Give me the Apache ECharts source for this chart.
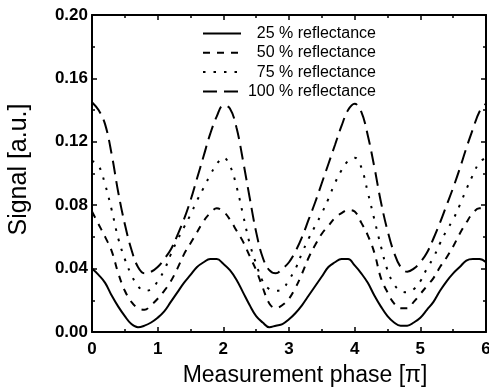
<!DOCTYPE html>
<html>
<head>
<meta charset="utf-8">
<script src="https://cdn.jsdelivr.net/npm/echarts@6/dist/echarts.min.js"></script>
<style>
  html, body { margin: 0; padding: 0; background: #fff; }
  #chart { width: 489px; height: 389px; }
</style>
</head>
<body>
<div id="chart"></div>
<script>
// Measurement phase in units of pi
const phase = [
  0.0, 0.1, 0.2, 0.3, 0.4, 0.5, 0.6, 0.7, 0.8, 0.9,
  1.0, 1.1, 1.2, 1.3, 1.4, 1.5, 1.6, 1.7, 1.8, 1.9,
  2.0, 2.1, 2.2, 2.3, 2.4, 2.5, 2.6, 2.7, 2.8, 2.9,
  3.0, 3.1, 3.2, 3.3, 3.4, 3.5, 3.6, 3.7, 3.8, 3.9,
  4.0, 4.1, 4.2, 4.3, 4.4, 4.5, 4.6, 4.7, 4.8, 4.9,
  5.0, 5.1, 5.2, 5.3, 5.4, 5.5, 5.6, 5.7, 5.8, 5.9,
  6.0
];

// Signal [a.u.] for each target reflectance
const refl25 = [
  0.040, 0.036, 0.031, 0.023, 0.016, 0.010, 0.005, 0.003, 0.004, 0.006,
  0.009, 0.013, 0.019, 0.025, 0.031, 0.036, 0.041, 0.044, 0.046, 0.046,
  0.043, 0.039, 0.033, 0.025, 0.017, 0.010, 0.006, 0.003, 0.004, 0.005,
  0.008, 0.012, 0.017, 0.023, 0.029, 0.035, 0.041, 0.044, 0.046, 0.046,
  0.042, 0.037, 0.031, 0.023, 0.016, 0.010, 0.006, 0.004, 0.004, 0.006,
  0.009, 0.014, 0.019, 0.026, 0.032, 0.037, 0.041, 0.045, 0.046, 0.046,
  0.044
];
const refl50 = [
  0.076, 0.068, 0.060, 0.051, 0.037, 0.026, 0.019, 0.015, 0.014, 0.017,
  0.021, 0.026, 0.032, 0.040, 0.049, 0.056, 0.063, 0.070, 0.075, 0.078,
  0.076, 0.071, 0.064, 0.057, 0.048, 0.039, 0.028, 0.018, 0.015, 0.017,
  0.021, 0.028, 0.037, 0.047, 0.055, 0.062, 0.067, 0.072, 0.075, 0.077,
  0.076, 0.069, 0.061, 0.050, 0.034, 0.025, 0.018, 0.015, 0.015, 0.019,
  0.024, 0.029, 0.034, 0.041, 0.047, 0.054, 0.062, 0.069, 0.075, 0.078,
  0.078
];
const refl75 = [
  0.108, 0.105, 0.093, 0.077, 0.059, 0.046, 0.036, 0.029, 0.026, 0.027,
  0.032, 0.039, 0.049, 0.058, 0.066, 0.074, 0.083, 0.091, 0.099, 0.106,
  0.110, 0.105, 0.092, 0.074, 0.056, 0.043, 0.032, 0.027, 0.026, 0.027,
  0.033, 0.040, 0.050, 0.059, 0.067, 0.075, 0.084, 0.094, 0.102, 0.108,
  0.110, 0.104, 0.088, 0.071, 0.054, 0.039, 0.030, 0.026, 0.025, 0.027,
  0.032, 0.040, 0.047, 0.056, 0.064, 0.071, 0.080, 0.090, 0.099, 0.107,
  0.110
];
const refl100 = [
  0.145, 0.140, 0.131, 0.112, 0.088, 0.068, 0.052, 0.041, 0.037, 0.038,
  0.041, 0.046, 0.052, 0.061, 0.071, 0.083, 0.097, 0.111, 0.125, 0.136,
  0.143, 0.141, 0.129, 0.108, 0.085, 0.063, 0.047, 0.039, 0.037, 0.040,
  0.044, 0.051, 0.060, 0.071, 0.082, 0.094, 0.106, 0.118, 0.130, 0.140,
  0.144, 0.139, 0.124, 0.104, 0.082, 0.064, 0.050, 0.041, 0.038, 0.040,
  0.044, 0.050, 0.059, 0.069, 0.080, 0.091, 0.103, 0.116, 0.128, 0.139,
  0.144
];

const seriesNames = ['25 % reflectance', '50 % reflectance', '75 % reflectance', '100 % reflectance'];
const seriesValues = [refl25, refl50, refl75, refl100];
const dashPatterns = ['solid', [7, 7], [2.5, 8], [14, 7]];

const FONT = 'Liberation Sans, Arial, Helvetica, sans-serif';

const axisLine = { show: true, onZero: false, lineStyle: { color: '#000', width: 2 } };
const axisTick = { show: true, inside: true, length: 5, lineStyle: { color: '#000', width: 1.5 } };
const minorTick = { show: true, splitNumber: 2, length: 3, lineStyle: { color: '#000', width: 1.5 } };

// A plain value axis used for every side of the frame
function frameAxis(position, isX) {
  return {
    type: 'value',
    position: position,
    min: 0,
    max: isX ? 6 : 0.2,
    interval: isX ? 1 : 0.04,
    axisLine: axisLine,
    axisTick: axisTick,
    minorTick: minorTick,
    splitLine: { show: false },
    axisLabel: { show: false }
  };
}

const chart = echarts.init(document.getElementById('chart'), null, { renderer: 'canvas' });

chart.setOption({
  backgroundColor: '#fff',
  animation: false,
  grid: { left: 92, right: 3, top: 15, bottom: 57, outerBoundsMode: 'none', containLabel: false },
  legend: {
    orient: 'vertical',
    left: 202,
    top: 25.5,
    padding: 0,
    itemWidth: 38,
    itemHeight: 14,
    itemGap: 3.3,
    data: seriesNames,
    itemStyle: { opacity: 0 },
    formatter: name => '{r|' + name + '}',
    textStyle: {
      color: '#000',
      fontFamily: FONT,
      fontSize: 16,
      lineHeight: 16,
      rich: { r: { width: 130, align: 'right', fontSize: 16, fontFamily: FONT, color: '#000', lineHeight: 16 } }
    }
  },
  xAxis: [
    Object.assign(frameAxis('bottom', true), {
      axisLabel: {
        show: true, color: '#000', fontFamily: FONT, fontSize: 17, fontWeight: 'bold', margin: 9,
        formatter: v => String(v)
      },
      name: 'Measurement phase [\u03c0]',
      nameLocation: 'middle',
      nameGap: 32,
      nameTextStyle: { color: '#000', fontFamily: FONT, fontSize: 23, padding: [0, 0, 0, 32] }
    }),
    frameAxis('top', true)
  ],
  yAxis: [
    Object.assign(frameAxis('left', false), {
      axisLabel: {
        show: true, color: '#000', fontFamily: FONT, fontSize: 17, fontWeight: 'bold', margin: 4,
        formatter: v => v.toFixed(2)
      },
      name: 'Signal [a.u.]',
      nameLocation: 'middle',
      nameGap: 60,
      nameTextStyle: { color: '#000', fontFamily: FONT, fontSize: 25, padding: [0, 0, 0, 8] }
    }),
    frameAxis('right', false)
  ],
  series: seriesNames.map((name, i) => ({
    name: name,
    type: 'line',
    xAxisIndex: 0,
    yAxisIndex: 0,
    smooth: 0.4,
    symbol: 'none',
    data: phase.map((x, k) => [x, seriesValues[i][k]]),
    lineStyle: { color: '#000', width: 2, type: dashPatterns[i] },
    itemStyle: { color: '#000' }
  }))
});
</script>
</body>
</html>
